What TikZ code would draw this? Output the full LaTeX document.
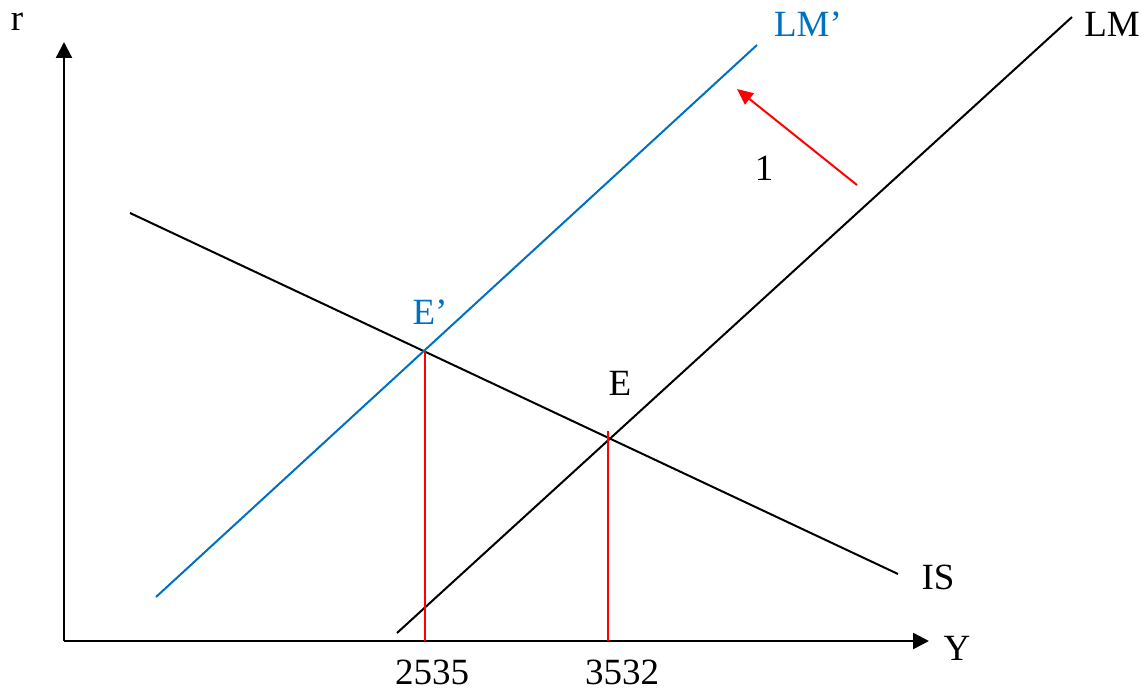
\documentclass[tikz,border=0pt]{standalone}
\usepackage{fontspec}
\setmainfont{Liberation Serif}
\usetikzlibrary{arrows.meta}
\definecolor{lmblue}{RGB}{0,112,192}
\definecolor{shiftred}{RGB}{255,0,0}
\begin{document}
\begin{tikzpicture}[x=1pt,y=-1pt,
  lbl/.style={font=\fontsize{37}{40}\selectfont, inner sep=0pt},
  axis/.style={line width=2.4pt, -{Triangle[length=16pt,width=16pt]}},
  curve/.style={line width=2pt},
  guide/.style={line width=2pt, shiftred}]
\useasboundingbox (0,0) rectangle (1141,690);
% coordinates
\coordinate (O) at (64,641);
\coordinate (ytop) at (64,42);
\coordinate (xend) at (929,641);
\coordinate (lmA) at (397,633);
\coordinate (lmB) at (1072,17);
\coordinate (lmpA) at (156,597);
\coordinate (lmpB) at (757,45);
\coordinate (isA) at (130,213);
\coordinate (isB) at (898,574);
\coordinate (Ep) at (425,351);
\coordinate (E) at (608,438);
\coordinate (Etop) at (608,431);
\coordinate (Epb) at (425,641);
\coordinate (Eb) at (608,641);
\coordinate (arA) at (857,185);
\coordinate (arB) at (737,89);
% axes
\draw[axis] (O) -- (ytop);
\draw[axis] (O) -- (xend);
% curves
\draw[curve] (isA) -- (isB);
\draw[curve] (lmA) -- (lmB);
\draw[curve, lmblue] (lmpA) -- (lmpB);
% guides
\draw[guide] (Ep) -- (Epb);
\draw[guide] (Etop) -- (Eb);
% shift arrow
\draw[line width=2pt, shiftred, -{Triangle[length=16pt,width=14pt]}] (arA) -- (arB);
% labels
\node[lbl] (r) at (17,22) {r};
\node[lbl] (Y) at (957,648) {Y};
\node[lbl] (LM) at (1112,24) {LM};
\node[lbl, text=lmblue] (LMp) at (808,24) {LM’};
\node[lbl] (IS) at (938,577) {IS};
\node[lbl, text=lmblue] (Eplbl) at (430,312) {E’};
\node[lbl] (Elbl) at (620,383) {E};
\node[lbl] (n1) at (764,168) {1};
\node[lbl] (t2535) at (432,672) {2535};
\node[lbl] (t3532) at (622,672) {3532};
\end{tikzpicture}
\end{document}
